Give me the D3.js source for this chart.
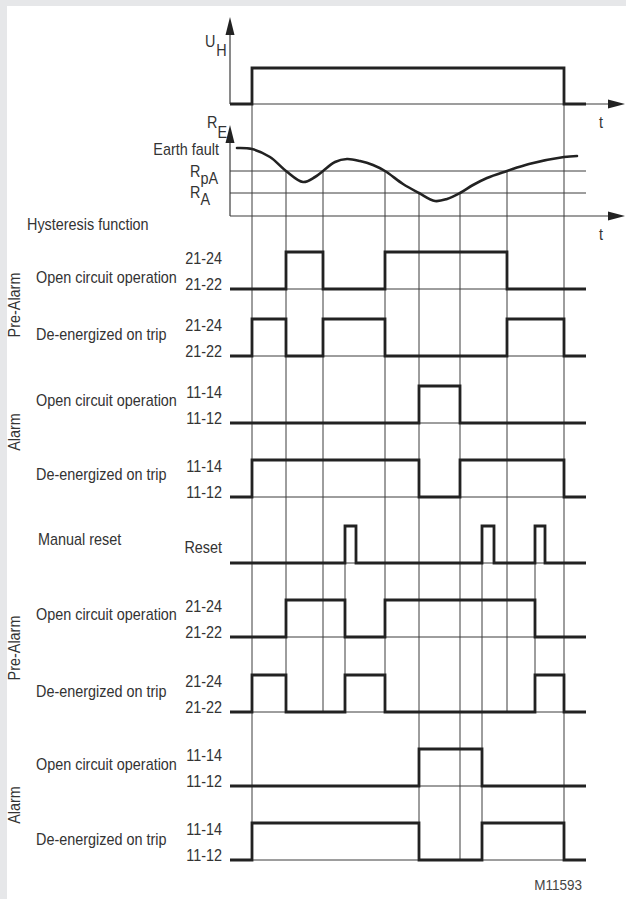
<!DOCTYPE html>
<html>
<head>
<meta charset="utf-8">
<script src="https://cdn.jsdelivr.net/npm/d3@7"></script>
<style>
body { margin: 0; background: #e6e7e9; }
svg { display: block; }
text { font-family: "Liberation Sans", Arial, sans-serif; font-size: 16px; fill: #333; }
</style>
</head>
<body>
<svg id="chart" width="626" height="899"></svg>
<script>
// Données (temps en unités arbitraires, 0 = axe vertical)
const tEnd = 356
const uhOnOff = [22, 334]

// courbe R_E
const reTimes = [7, 22, 40, 56, 73, 85, 93, 105, 117, 130, 143, 155, 173, 189, 205, 217, 230, 243, 257, 277, 299, 334, 347]
const reValues = [68, 67, 59, 45, 34, 39, 45, 54, 57, 55, 51, 45, 32, 23, 15, 17, 23, 31, 38, 45, 52, 59, 60]
const thresholds = [45, 23]   // R_pA, R_A

// Lignes de signaux
const rowLabels = ["Open circuit operation", "De-energized on trip", "Open circuit operation", "De-energized on trip",
    "Manual reset", "Open circuit operation", "De-energized on trip", "Open circuit operation", "De-energized on trip"]
const highTicks = ["21-24", "21-24", "11-14", "11-14", "Reset", "21-24", "21-24", "11-14", "11-14"]
const lowTicks = ["21-22", "21-22", "11-12", "11-12", "", "21-22", "21-22", "11-12", "11-12"]
const rowHigh = [
    [[56, 93], [155, 277]],
    [[22, 56], [93, 155], [277, 334]],
    [[189, 230]],
    [[22, 189], [230, 334]],
    [[115, 126], [252, 264], [305, 315]],
    [[56, 115], [155, 305]],
    [[22, 56], [115, 155], [305, 334]],
    [[189, 252]],
    [[22, 189], [252, 334]]
]
const groupNames = ["Pre-Alarm", "Alarm", "Pre-Alarm", "Alarm"]

// Lignes verticales de repère
const guideTimes = [22, 56, 93, 155, 189, 230, 277, 334, 115, 252, 305]
const guideFrom = ["UH", "RpA", "RpA", "RpA", "RA", "RA", "RpA", "UH", "Reset", "Reset", "Reset"]
const guideTo = [8, 6, 6, 6, 8, 8, 6, 8, 6, 8, 6]

// -------------------------------------------------------------------------------
// Mise en page

const thick = "#222"
const thin = "#3c3c3c"
const sx = 0.9 // police étroite

const svg = d3.select("#chart")

svg.append("rect")
    .attr("x", 7).attr("y", 6)
    .attr("width", 619).attr("height", 893)
    .attr("fill", "white")

const x = d3.scaleLinear().domain([0, tEnd]).range([230, 586])
const uhY = d3.scaleLinear().domain([0, 1]).range([104, 68])
const reY = d3.scaleLinear().domain([0, 91]).range([216, 125])
const rowY = d3.scaleOrdinal()
    .domain(d3.range(rowLabels.length))
    .range([289, 356, 423, 497, 563, 637, 712, 786, 860])
const level = d3.scaleLinear().domain([0, 1]).range([0, -37])

function label(g, txt, px, py, anchor, size) {
    return g.append("text")
        .attr("transform", `translate(${px},${py}) scale(${sx},1)`)
        .attr("text-anchor", anchor || "start")
        .style("font-size", (size || 16) + "px")
        .text(txt)
}

function stepPoints(intervals) {
    const pts = [[0, 0]]
    intervals.forEach(([a, b]) => {
        pts.push([a, 0], [a, 1], [b, 1], [b, 0])
    })
    pts.push([tEnd, 0])
    return pts
}

// Grille fine
const grid = svg.append("g")
    .attr("stroke", thin)
    .attr("stroke-width", 1)

guideTimes.forEach((t, i) => {
    const from = guideFrom[i]
    const y1 = from == "UH" ? uhY(1) : from == "RpA" ? reY(thresholds[0]) : from == "RA" ? reY(thresholds[1]) : rowY(4)
    grid.append("line")
        .attr("x1", x(t)).attr("x2", x(t))
        .attr("y1", y1).attr("y2", rowY(guideTo[i]))
})

thresholds.forEach(v => {
    grid.append("line")
        .attr("x1", x(0)).attr("x2", x(tEnd))
        .attr("y1", reY(v)).attr("y2", reY(v))
})

rowLabels.forEach((d, i) => {
    grid.append("line")
        .attr("x1", x(0)).attr("x2", x(tEnd))
        .attr("y1", rowY(i)).attr("y2", rowY(i))
})

// Axes avec flèches
const axes = svg.append("g")
function arrowAxis(yBase, yTop) {
    axes.append("line")
        .attr("x1", x(0)).attr("x2", x(0))
        .attr("y1", yBase).attr("y2", yTop + 10)
        .attr("stroke", thin).attr("stroke-width", 1.2)
    axes.append("path")
        .attr("d", `M${x(0)},${yTop} L${x(0) - 4.5},${yTop + 18} L${x(0) + 4.5},${yTop + 18} Z`)
        .attr("fill", thick)
    axes.append("line")
        .attr("x1", x(0)).attr("x2", x(tEnd + 30))
        .attr("y1", yBase).attr("y2", yBase)
        .attr("stroke", thin).attr("stroke-width", 1.2)
    axes.append("path")
        .attr("d", `M${x(tEnd + 39)},${yBase} L${x(tEnd + 22)},${yBase - 4.5} L${x(tEnd + 22)},${yBase + 4.5} Z`)
        .attr("fill", thick)
    label(axes, "t", x(tEnd + 13), yBase + 24)
}
arrowAxis(uhY(0), 17)
arrowAxis(reY(0), reY(91))

// Signal U_H
const step = d3.line().x(d => x(d[0])).y(d => d[1])
svg.append("path")
    .attr("d", step(stepPoints([uhOnOff]).map(d => [d[0], uhY(d[1])])))
    .attr("fill", "none")
    .attr("stroke", thick)
    .attr("stroke-width", 2.8)

// Courbe R_E
const reLine = d3.line()
    .x((d, i) => x(reTimes[i]))
    .y(d => reY(d))
    .curve(d3.curveCatmullRom.alpha(0.5))
svg.append("path")
    .attr("d", reLine(reValues))
    .attr("fill", "none")
    .attr("stroke", thick)
    .attr("stroke-width", 2.6)
    .attr("stroke-linecap", "round")

// Signaux des relais
rowHigh.forEach((intervals, i) => {
    svg.append("path")
        .attr("d", step(stepPoints(intervals).map(d => [d[0], rowY(i) + level(d[1])])))
        .attr("fill", "none")
        .attr("stroke", thick)
        .attr("stroke-width", 2.8)
})

// Textes
const txt = svg.append("g")

// U_H
const uh = label(txt, "U", 205, 47)
uh.append("tspan").attr("dy", 9).attr("dx", 1).text("H")

// R_E etc
const re = label(txt, "R", 207, 128)
re.append("tspan").attr("dy", 10).text("E")
label(txt, "Earth fault", 219, 155, "end")
const rpa = label(txt, "R", 190, 177)
rpa.append("tspan").attr("dy", 7).text("pA")
const ra = label(txt, "R", 190, 198)
ra.append("tspan").attr("dy", 7).text("A")
label(txt, "Hysteresis function", 27, 230)

const labelDy = [-6, -16, -17, -17, -18, -17, -15, -16, -15]
rowLabels.forEach((d, i) => {
    const low = rowY(i)
    label(txt, d, i == 4 ? 38 : 36, low + labelDy[i])
    if (lowTicks[i]) {
        label(txt, highTicks[i], 222, low - 25, "end")
        label(txt, lowTicks[i], 222, low + 1, "end")
    } else {
        label(txt, highTicks[i], 222, low - 10, "end")
    }
})

// Groupes (texte vertical)
const groupCenters = [305, 432, 648, 805]
groupNames.forEach((g, i) => {
    txt.append("text")
        .attr("transform", `translate(20,${groupCenters[i]}) rotate(-90) scale(${sx},1)`)
        .attr("text-anchor", "middle")
        .text(g)
})

label(txt, "M11593", 582, 890, "end", 15).style("fill", "#444")
</script>
</body>
</html>
